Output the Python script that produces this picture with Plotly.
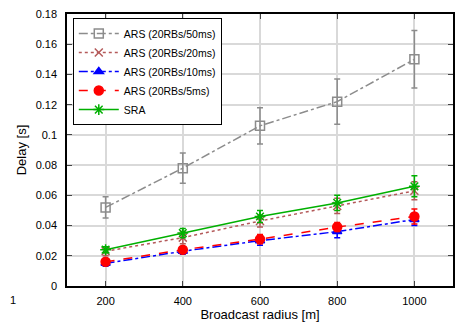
import plotly.graph_objects as go

radius = [200, 400, 600, 800, 1000]
names = ["ARS (20RBs/50ms)", "ARS (20RBs/20ms)", "ARS (20RBs/10ms)", "ARS (20RBs/5ms)", "SRA"]
ars50 = [0.052, 0.078, 0.106, 0.122, 0.150]
ars50_err = [0.007, 0.010, 0.012, 0.015, 0.019]
ars20 = [0.023, 0.032, 0.043, 0.053, 0.063]
ars20_err = [0.003, 0.004, 0.004, 0.005, 0.006]
ars10 = [0.015, 0.023, 0.030, 0.036, 0.044]
ars10_err = [0.002, 0.002, 0.003, 0.004, 0.004]
ars5 = [0.016, 0.024, 0.031, 0.039, 0.046]
ars5_err = [0.002, 0.002, 0.003, 0.003, 0.005]
sra = [0.024, 0.035, 0.046, 0.055, 0.066]
sra_err = [0.002, 0.003, 0.004, 0.005, 0.007]

series = [ars50, ars20, ars10, ars5, sra]
errs = [ars50_err, ars20_err, ars10_err, ars5_err, sra_err]
colors = ["#8c8c8c", "#b45a5a", "#0000ff", "#ff0000", "#00b000"]
dashes = ["dashdot", "dot", "dashdot", "dash", "solid"]
symbols = ["square-open", "x-thin-open", "triangle-up", "circle", "asterisk-open"]
msizes = [9, 8, 8, 9, 9]

fig = go.Figure()
for n, y, e, c, d, s, ms in zip(names, series, errs, colors, dashes, symbols, msizes):
    fig.add_trace(go.Scatter(
        x=radius, y=y, name=n, mode="lines+markers",
        line=dict(color=c, dash=d, width=1.5),
        marker=dict(symbol=s, size=ms, color=c, line=dict(color=c, width=1.5)),
        error_y=dict(type="data", array=e, color=c, thickness=1.5, width=3),
    ))

font = dict(family="Liberation Sans, Arial, sans-serif", size=11, color="black")
fig.update_layout(
    width=459, height=327,
    margin=dict(l=67, r=6, t=14, b=41),
    paper_bgcolor="white", plot_bgcolor="white",
    font=font,
    showlegend=True,
    legend=dict(x=0.015, y=0.985, xanchor="left", yanchor="top",
                bordercolor="black", borderwidth=1, bgcolor="white",
                font=dict(family="Liberation Sans, Arial, sans-serif", size=10.5),
                tracegroupgap=0, itemwidth=40),
    xaxis=dict(range=[100, 1100], tickvals=radius, ticks="inside", ticklen=5,
               showline=True, linecolor="black", linewidth=1.5, mirror="allticks",
               showgrid=True, gridcolor="#d9d9d9", gridwidth=1.5, zeroline=False,
               automargin=False, ticklabelstandoff=4,
               title=dict(text="Broadcast radius [m]", standoff=2)),
    yaxis=dict(range=[0, 0.18], tickvals=[0, 0.02, 0.04, 0.06, 0.08, 0.1, 0.12, 0.14, 0.16, 0.18],
               ticktext=["0", "0.02", "0.04", "0.06", "0.08", "0.1", "0.12", "0.14", "0.16", "0.18"],
               ticks="inside", ticklen=5,
               showline=True, linecolor="black", linewidth=1.5, mirror="allticks",
               showgrid=True, gridcolor="#d9d9d9", gridwidth=1.5, zeroline=False,
               automargin=False, ticklabelstandoff=6,
               title=dict(text="Delay [s]", standoff=6)),
    annotations=[dict(text="1", xref="paper", yref="paper", x=-0.153, y=-0.05,
                      yanchor="middle", showarrow=False, font=font)],
)

fig.write_html("out.html", config={"displayModeBar": False},
               post_script="document.body.style.margin='0';document.body.style.overflow='hidden';")
